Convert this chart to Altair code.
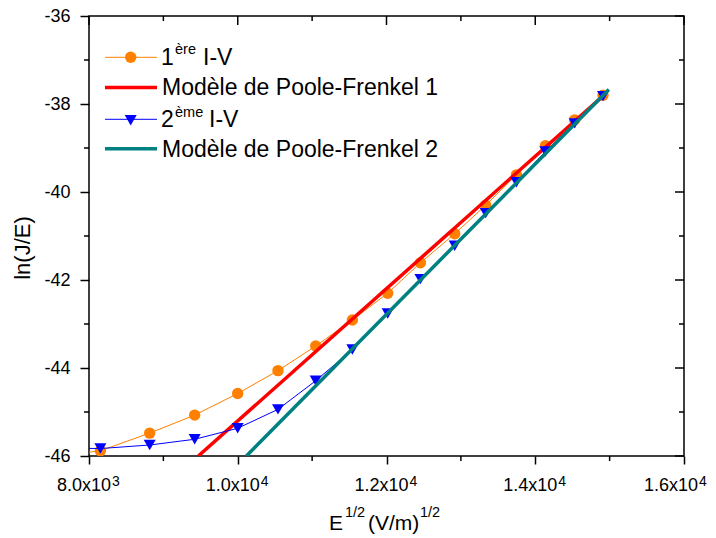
import altair as alt
import pandas as pd

# ---------------- data ----------------
x_vals = [7414, 8153, 8816, 9421, 9999, 10541, 11048, 11541, 12016, 12456,
          12917, 13334, 13747, 14136, 14530, 14911]
y_iv1 = [-46.05, -45.88, -45.48, -45.07, -44.58, -44.06, -43.50, -42.91, -42.30,
         -41.61, -40.95, -40.30, -39.61, -38.95, -38.36, -37.80]
y_iv2 = [-45.82, -45.83, -45.75, -45.62, -45.37, -44.94, -44.29, -43.58, -42.76,
         -41.98, -41.22, -40.48, -39.78, -39.08, -38.44, -37.82]
pf1_x = [9470, 14910]
pf1_y = [-46.0, -37.82]
pf2_x = [10116, 14990]
pf2_y = [-46.0, -37.67]

x_major = [8000, 10000, 12000, 14000, 16000]
x_minor = [9000, 11000, 13000, 15000]
x_mant = ["8.0x10", "1.0x10", "1.2x10", "1.4x10", "1.6x10"]
x_exp = ["3", "4", "4", "4", "4"]
y_major = [-46, -44, -42, -40, -38, -36]
y_minor = [-45, -43, -41, -39, -37]

# ---------------- style ----------------
FONT = "Liberation Sans"
ORANGE = "#FF8000"
RED = "#FF0000"
BLUE = "#0000FF"
TEAL = "#008080"
W, H = 595, 440

xs = alt.Scale(domain=[8000, 16000], nice=False, zero=False)
ys = alt.Scale(domain=[-46, -36], nice=False, zero=False)

xaxis = alt.Axis(values=x_major, labels=False, title=None, tickSize=8,
                 tickWidth=1.5, tickColor="black", domain=False, grid=False)
yaxis = alt.Axis(values=y_major, tickSize=9, tickWidth=1.5, tickColor="black",
                 labelFontSize=18, labelPadding=10,
                 labelExpr="'-' + abs(datum.value)",
                 title=None, domain=False, grid=False)

X = alt.X("x:Q", scale=xs, axis=xaxis)
Y = alt.Y("y:Q", scale=ys, axis=yaxis)

df1 = pd.DataFrame({"x": x_vals, "y": y_iv1})
df2 = pd.DataFrame({"x": x_vals, "y": y_iv2})
dpf1 = pd.DataFrame({"x": pf1_x, "y": pf1_y})
dpf2 = pd.DataFrame({"x": pf2_x, "y": pf2_y})

s1_line = alt.Chart(df1).mark_line(color=ORANGE, strokeWidth=1, clip=True).encode(x=X, y=Y)
s1_pts = alt.Chart(df1).mark_point(shape="circle", filled=True, size=130, color=ORANGE,
                                   opacity=1, clip=True).encode(x=X, y=Y)
pf1 = alt.Chart(dpf1).mark_line(color=RED, strokeWidth=3.5, clip=True).encode(x=X, y=Y)
s2_line = alt.Chart(df2).mark_line(color=BLUE, strokeWidth=1, clip=True).encode(x=X, y=Y)
s2_pts = alt.Chart(df2).mark_point(shape="triangle-down", filled=True, size=144, color=BLUE,
                                   opacity=1, clip=True).encode(x=X, y=Y)
pf2 = alt.Chart(dpf2).mark_line(color=TEAL, strokeWidth=3.5, clip=True).encode(x=X, y=Y)

# ---------------- extra ticks (minor / mirrored) ----------------
dxmaj = pd.DataFrame({"x": x_major})
dxmin = pd.DataFrame({"x": x_minor})
dymaj = pd.DataFrame({"y": y_major})
dymin = pd.DataFrame({"y": y_minor})

def rule(df):
    return alt.Chart(df).mark_rule(color="black", strokeWidth=1.5)

ticks = [
    rule(dxmin).encode(x=X, y=alt.value(H), y2=alt.value(H + 5)),
    rule(dxmaj).encode(x=X, y=alt.value(0), y2=alt.value(9)),
    rule(dxmin).encode(x=X, y=alt.value(0), y2=alt.value(5)),
    rule(dymin).encode(y=Y, x=alt.value(-5), x2=alt.value(0)),
    rule(dymaj).encode(y=Y, x=alt.value(W - 9), x2=alt.value(W)),
    rule(dymin).encode(y=Y, x=alt.value(W - 5), x2=alt.value(W)),
]

# ---------------- x tick labels with superscripts ----------------
dlab = pd.DataFrame({"x": x_major, "mant": x_mant, "exp": x_exp})
inner = "datum.x < 16000"
last = "datum.x >= 16000"

def xlabels(cond, shift):
    base = alt.Chart(dlab).transform_filter(cond)
    m = base.mark_text(align="right", baseline="alphabetic", fontSize=18,
                       font=FONT, color="black", dx=22 + shift).encode(
        x=X, y=alt.value(475), text="mant:N")
    e = base.mark_text(align="left", baseline="alphabetic", fontSize=14,
                       font=FONT, color="black", dx=23 + shift).encode(
        x=X, y=alt.value(470), text="exp:N")
    return [m, e]

xlab = xlabels(inner, 0) + xlabels(last, -8)

one = pd.DataFrame({"a": [0]})

def txt(s, x, y, size, angle=0, align="left", baseline="alphabetic"):
    return alt.Chart(one).mark_text(text=s, align=align, baseline=baseline, angle=angle,
                                    fontSize=size, font=FONT, color="black").encode(
        x=alt.value(x), y=alt.value(y))

def lrule(x1, x2, y, color, width):
    return alt.Chart(one).mark_rule(color=color, strokeWidth=width).encode(
        x=alt.value(x1), x2=alt.value(x2), y=alt.value(y))

def lsym(x, y, shape, color, size):
    return alt.Chart(one).mark_point(shape=shape, filled=True, size=size, color=color,
                                     opacity=1).encode(x=alt.value(x), y=alt.value(y))

# y axis title
ytitle = [txt("ln(J/E)", -66, 232, 22, angle=270, align="center", baseline="middle")]

# x axis title: E^{1/2} (V/m)^{1/2}
xtitle = [
    txt("E", 240, 513.5, 21),
    txt("1/2", 256, 501, 14.5),
    txt("(V/m)", 279, 513.5, 21),
    txt("1/2", 331, 501, 14.5),
]

# legend
legend = [
    lrule(16, 68, 41.3, ORANGE, 1),
    lsym(41.7, 41.3, "circle", ORANGE, 130),
    txt("1", 72, 49, 23),
    txt("ère", 86, 38, 14.5),
    txt("I-V", 114, 49, 23),
    lrule(16, 68, 71.5, RED, 3.5),
    txt("Modèle de Poole-Frenkel 1", 73, 79, 23),
    lrule(16, 68, 103.3, BLUE, 1),
    lsym(41.7, 104.3, "triangle-down", BLUE, 144),
    txt("2", 72, 110.7, 23),
    txt("ème", 86, 101.3, 14.5),
    txt("I-V", 120, 110.7, 23),
    lrule(16, 68, 132.7, TEAL, 3.5),
    txt("Modèle de Poole-Frenkel 2", 73, 140.5, 23),
]

chart = alt.layer(
    s1_line, s1_pts, pf1, s2_line, s2_pts, pf2,
    *ticks, *xlab, *ytitle, *xtitle, *legend
).properties(
    width=W, height=H,
    autosize=alt.AutoSizeParams(type="none"),
    padding={"left": 81, "top": 8, "right": 24, "bottom": 78},
).configure_view(
    stroke="black", strokeWidth=1.5
).configure_axis(
    labelFont=FONT, titleFont=FONT, labelColor="black", titleColor="black"
)

chart.save("out.html", embed_options={"renderer": "svg", "actions": False})
